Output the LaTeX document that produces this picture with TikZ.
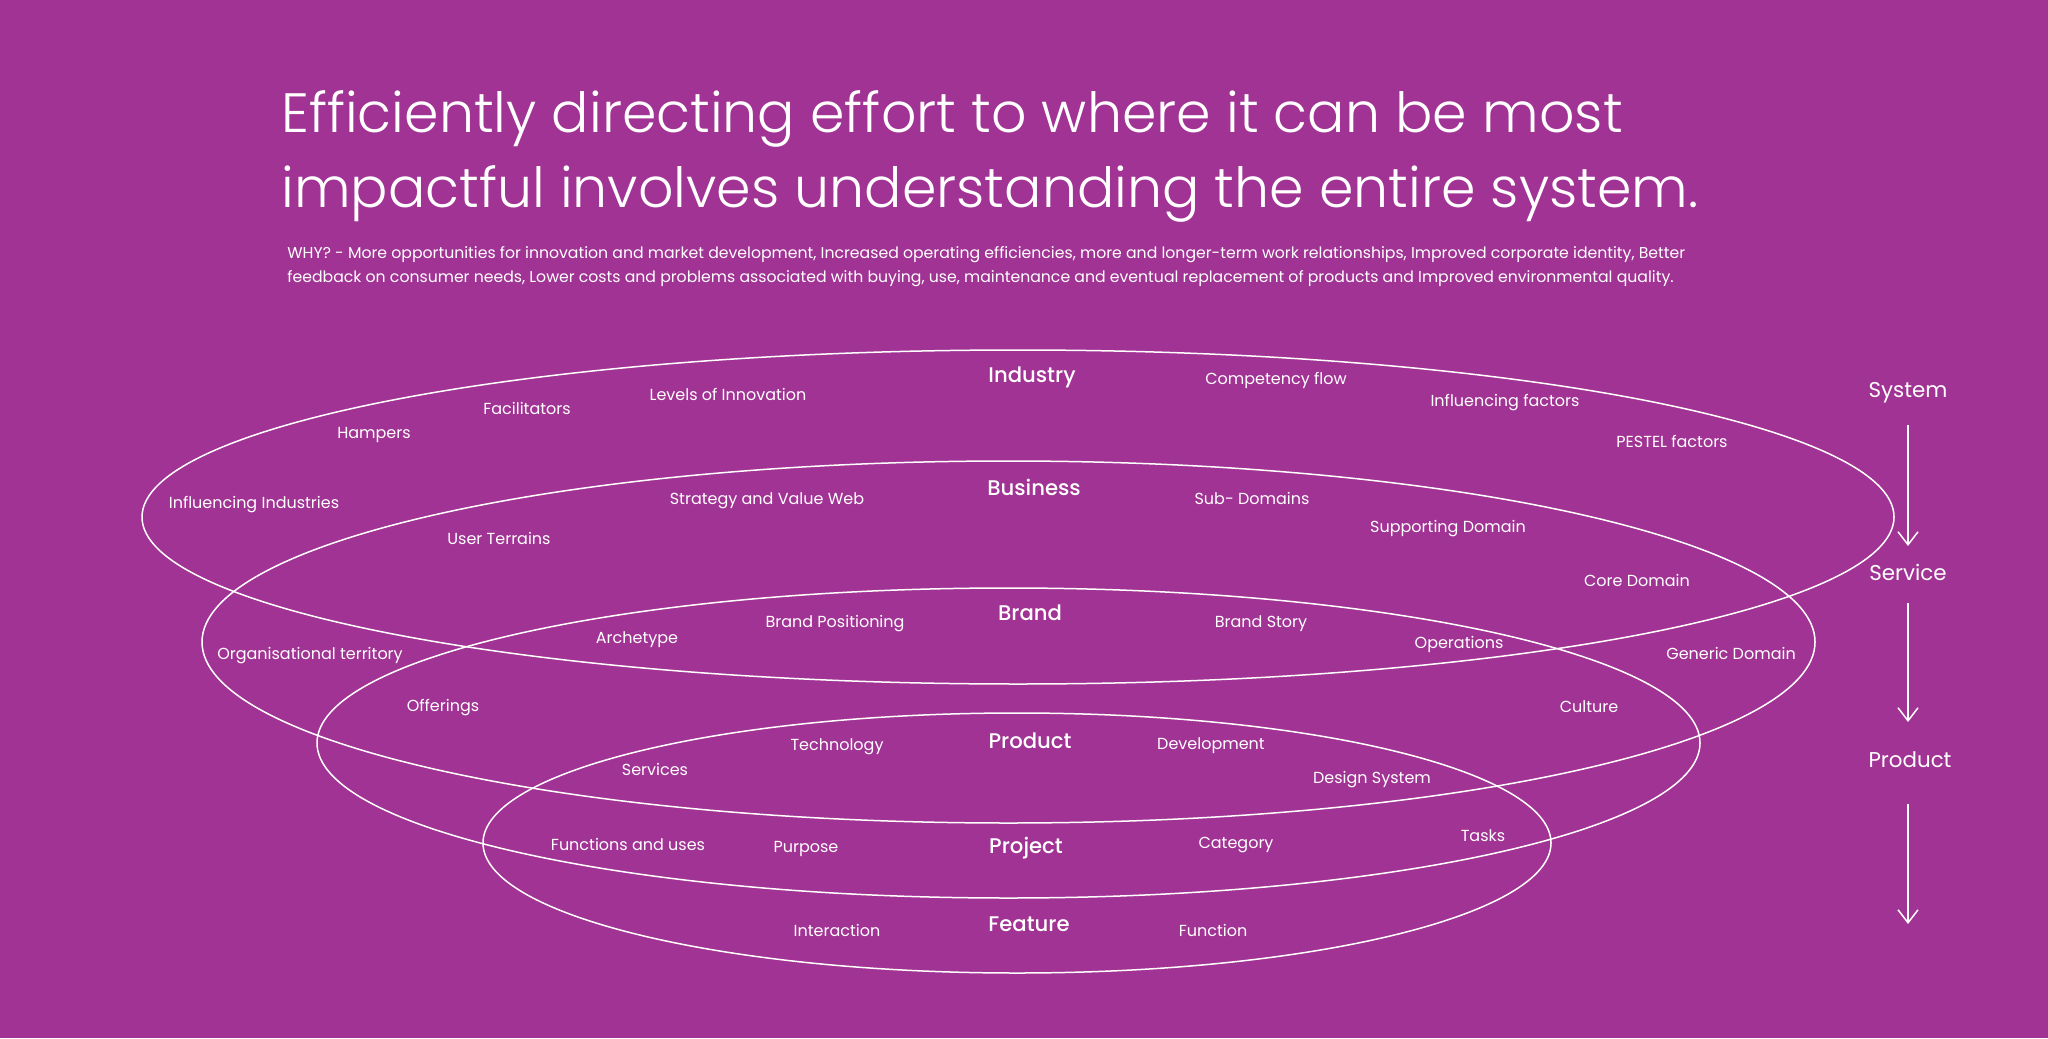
\documentclass[tikz,border=0pt]{standalone}
\usepackage{fontspec}
\setmainfont{Poppins}
\newfontfamily\medfont{Poppins Medium}
\newfontfamily\lightfont{Poppins Light}
\usetikzlibrary{arrows.meta}
\definecolor{bgpurple}{RGB}{161,51,148}
\tikzset{
  lbl/.style={text=white, font=\fontsize{8}{10}\selectfont, inner sep=0pt},
  cat/.style={text=white, font=\medfont\fontsize{10.6}{12}\selectfont, inner sep=0pt},
  side/.style={text=white, font=\fontsize{10.7}{13}\selectfont, inner sep=0pt},
  ttl/.style={text=white, font=\lightfont\fontsize{27.7}{32}\selectfont, inner sep=0pt, anchor=base west},
  sub/.style={text=white, font=\fontsize{7.85}{9.5}\selectfont, inner sep=0pt, anchor=base west},
  ring/.style={draw=white, line width=0.75pt},
  arr/.style={draw=white, line width=0.75pt, -{Straight Barb[length=6.5pt,width=10pt]}}
}
\begin{document}
\begin{tikzpicture}[x=0.5pt,y=-0.5pt]
\useasboundingbox (0,0) rectangle (2048,1038);
\fill[bgpurple] (0,0) rectangle (2048,1038);
% title
\node[ttl] (t1) at (281,132.5) {Efficiently directing effort to where it can be most};
\node[ttl] (t2) at (281,207) {impactful involves understanding the entire system.};
\node[sub] (s1) at (287,258) {WHY? - More opportunities for innovation and market development, Increased operating efficiencies, more and longer-term work relationships, Improved corporate identity, Better};
\node[sub] (s2) at (287,282) {feedback on consumer needs, Lower costs and problems associated with buying, use, maintenance and eventual replacement of products and Improved environmental quality.};
% rings
\draw[ring] (1018,517) ellipse [x radius=876, y radius=167];
\draw[ring] (1008.5,642) ellipse [x radius=806.5, y radius=181];
\draw[ring] (1008.5,743) ellipse [x radius=691.5, y radius=155];
\draw[ring] (1017,843) ellipse [x radius=534, y radius=130];
% category labels
\node[cat] (industry) at (1032,377) {Industry};
\node[cat] (business) at (1034,487) {Business};
\node[cat] (brand) at (1030,613) {Brand};
\node[cat] (product) at (1030,741) {Product};
\node[cat] (project) at (1026,848) {Project};
\node[cat] (feature) at (1029,924) {Feature};
% small labels
\node[lbl] (l1) at (1276,380) {Competency flow};
\node[lbl] (l2) at (1505,403) {Influencing factors};
\node[lbl] (l3) at (1672,441) {PESTEL factors};
\node[lbl] (l4) at (728,394) {Levels of Innovation};
\node[lbl] (l5) at (527,408) {Facilitators};
\node[lbl] (l6) at (374,435) {Hampers};
\node[lbl] (l7) at (254,505) {Influencing Industries};
\node[lbl] (l8) at (767,501) {Strategy and Value Web};
\node[lbl] (l9) at (1252,498) {Sub- Domains};
\node[lbl] (l10) at (1448,529) {Supporting Domain};
\node[lbl] (l11) at (499,538) {User Terrains};
\node[lbl] (l12) at (1637,580) {Core Domain};
\node[lbl] (l13) at (835,624) {Brand Positioning};
\node[lbl] (l14) at (1261,624) {Brand Story};
\node[lbl] (l15) at (637,640) {Archetype};
\node[lbl] (l16) at (1459,644) {Operations};
\node[lbl] (l17) at (310,656) {Organisational territory};
\node[lbl] (l18) at (1731,653) {Generic Domain};
\node[lbl] (l19) at (443,708) {Offerings};
\node[lbl] (l20) at (1589,707) {Culture};
\node[lbl] (l21) at (837,747) {Technology};
\node[lbl] (l22) at (1211,746) {Development};
\node[lbl] (l23) at (655,769) {Services};
\node[lbl] (l24) at (1372,780) {Design System};
\node[lbl] (l25) at (628,844) {Functions and uses};
\node[lbl] (l26) at (806,849) {Purpose};
\node[lbl] (l27) at (1236,845) {Category};
\node[lbl] (l28) at (1483,836) {Tasks};
\node[lbl] (l29) at (837,930) {Interaction};
\node[lbl] (l30) at (1213,930) {Function};
% side scale
\node[side] (sys) at (1908,393) {System};
\node[side] (srv) at (1908,572) {Service};
\node[side] (prd) at (1910,760) {Product};
\coordinate (endp) at (1908,924);
\draw[arr] ([yshift=-16pt]sys.center) -- ([yshift=13pt]srv.center);
\draw[arr] ([yshift=-15.5pt]srv.center) -- ([yshift=-75pt]srv.center);
\draw[arr] ([xshift=-1pt,yshift=-22pt]prd.center) -- (endp);
\end{tikzpicture}
\end{document}
